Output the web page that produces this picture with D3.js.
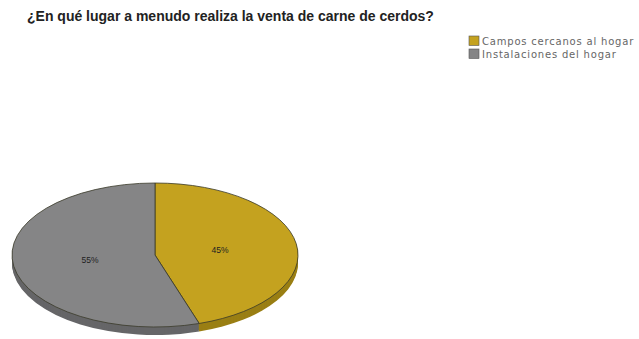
<!DOCTYPE html>
<html>
<head>
<meta charset="utf-8">
<script src="https://cdn.jsdelivr.net/npm/d3@7"></script>
<style>
  html, body { margin: 0; padding: 0; background: #ffffff; }
  svg { display: block; }
</style>
</head>
<body>
<svg id="chart" width="639" height="339"></svg>
<script>
// Survey answers
const categories = ["Campos cercanos al hogar", "Instalaciones del hogar"];
const values = [45, 55];
const labels = ["45%", "55%"];
const colors = ["#c4a21f", "#858586"];
const sideColors = ["#9a7f14", "#666668"];
const title = "¿En qué lugar a menudo realiza la venta de carne de cerdos?";

const svg = d3.select("#chart");

svg.append("text")
  .attr("x", 27).attr("y", 21)
  .attr("font-family", "Liberation Sans, Arial, sans-serif")
  .attr("font-weight", "bold")
  .attr("font-size", 14)
  .attr("fill", "#222")
  .text(title);

// Legend
const legend = svg.append("g").attr("transform", "translate(469,36)");
categories.forEach((c, i) => {
  const g = legend.append("g").attr("transform", `translate(0,${i * 13})`);
  g.append("rect").attr("width", 10).attr("height", 9.5)
    .attr("fill", colors[i]).attr("stroke", "#555").attr("stroke-width", 0.6);
  g.append("text").attr("x", 13).attr("y", 8.5)
    .attr("font-family", "DejaVu Sans, sans-serif")
    .attr("font-size", 10)
    .attr("letter-spacing", 0.8)
    .attr("fill", "#666")
    .text(c);
});

// Tilted pie
const cx = 155, cy = 255, rx = 143, ry = 72, depth = 8;
const slices = d3.pie().sort(null).value(d => d)(values);
const arc = d3.arc().innerRadius(0).outerRadius(rx);
const pieG = svg.append("g");

// side wall: stacked layers below the top face
for (let dy = depth; dy > 0; dy--) {
  const layer = pieG.append("g")
    .attr("transform", `translate(${cx},${cy + dy}) scale(1,${ry / rx})`);
  layer.selectAll("path").data(slices).join("path")
    .attr("d", arc)
    .attr("fill", (d, i) => sideColors[i]);
}

const face = pieG.append("g")
  .attr("transform", `translate(${cx},${cy}) scale(1,${ry / rx})`);
face.selectAll("path").data(slices).join("path")
  .attr("d", arc)
  .attr("fill", (d, i) => colors[i])
  .attr("stroke", "#3a3a2a")
  .attr("stroke-width", 0.8)
  .attr("vector-effect", "non-scaling-stroke");

// Value labels
const labelArc = d3.arc().innerRadius(rx * 0.46).outerRadius(rx * 0.46);
slices.forEach((d, i) => {
  const [lx, ly] = labelArc.centroid(d);
  svg.append("text")
    .attr("x", cx + lx).attr("y", cy + ly * ry / rx + 3)
    .attr("text-anchor", "middle")
    .attr("font-family", "Liberation Sans, Arial, sans-serif")
    .attr("font-size", 8.5)
    .attr("fill", "#222")
    .text(labels[i]);
});
</script>
</body>
</html>
